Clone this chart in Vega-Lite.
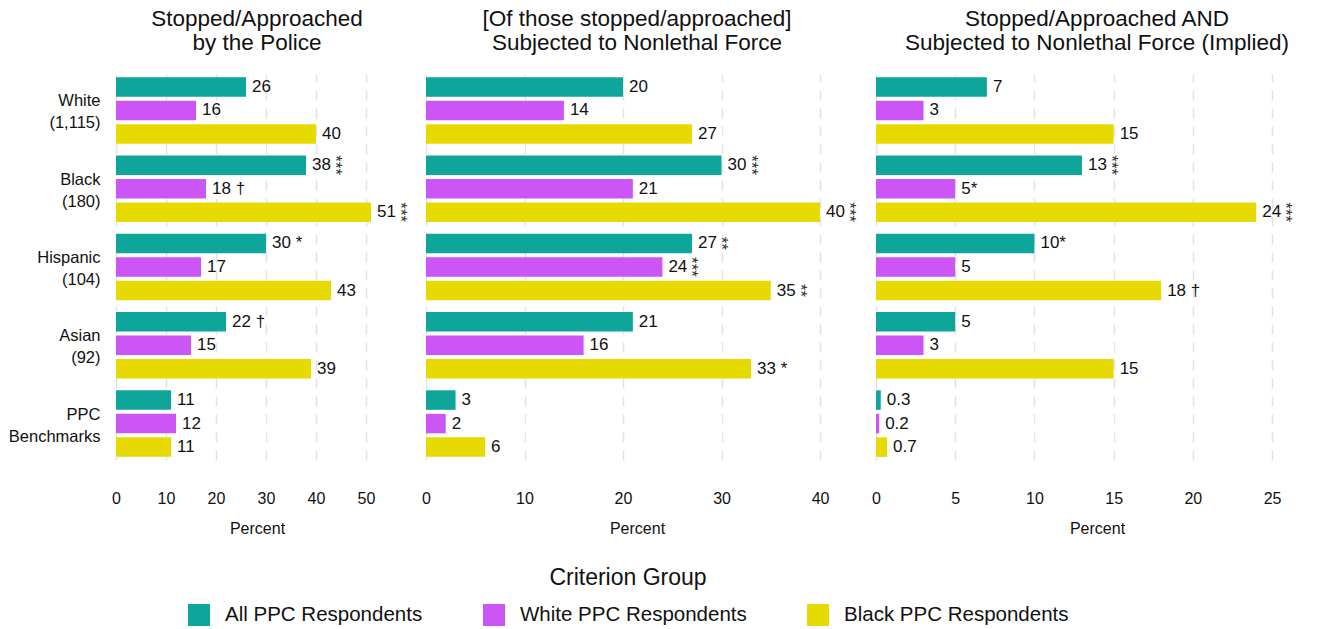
{
  "$schema": "https://vega.github.io/schema/vega-lite/v6.json",
  "padding": {"left": 8, "top": 7, "right": 2, "bottom": 2},
  "background": "white",
  "bounds": "flush",
  "config": {
    "view": {"stroke": null},
    "font": "Liberation Sans",
    "title": {"fontSize": 22.5, "fontWeight": "normal", "color": "#111111", "lineHeight": 24, "offset": 20, "anchor": "middle"},
    "axis": {"labelColor": "#111111", "titleColor": "#111111"},
    "concat": {"spacing": 28}
  },
  "datasets": {
    "rates": [
      {"panel": "Stopped", "race": "White|(1,115)", "group": "All PPC Respondents", "value": 26, "label": "26", "stars": null},
      {"panel": "Stopped", "race": "White|(1,115)", "group": "White PPC Respondents", "value": 16, "label": "16", "stars": null},
      {"panel": "Stopped", "race": "White|(1,115)", "group": "Black PPC Respondents", "value": 40, "label": "40", "stars": null},
      {"panel": "Stopped", "race": "Black|(180)", "group": "All PPC Respondents", "value": 38, "label": "38", "stars": "***"},
      {"panel": "Stopped", "race": "Black|(180)", "group": "White PPC Respondents", "value": 18, "label": "18 †", "stars": null},
      {"panel": "Stopped", "race": "Black|(180)", "group": "Black PPC Respondents", "value": 51, "label": "51", "stars": "***"},
      {"panel": "Stopped", "race": "Hispanic|(104)", "group": "All PPC Respondents", "value": 30, "label": "30 *", "stars": null},
      {"panel": "Stopped", "race": "Hispanic|(104)", "group": "White PPC Respondents", "value": 17, "label": "17", "stars": null},
      {"panel": "Stopped", "race": "Hispanic|(104)", "group": "Black PPC Respondents", "value": 43, "label": "43", "stars": null},
      {"panel": "Stopped", "race": "Asian|(92)", "group": "All PPC Respondents", "value": 22, "label": "22 †", "stars": null},
      {"panel": "Stopped", "race": "Asian|(92)", "group": "White PPC Respondents", "value": 15, "label": "15", "stars": null},
      {"panel": "Stopped", "race": "Asian|(92)", "group": "Black PPC Respondents", "value": 39, "label": "39", "stars": null},
      {"panel": "Stopped", "race": "PPC|Benchmarks", "group": "All PPC Respondents", "value": 11, "label": "11", "stars": null},
      {"panel": "Stopped", "race": "PPC|Benchmarks", "group": "White PPC Respondents", "value": 12, "label": "12", "stars": null},
      {"panel": "Stopped", "race": "PPC|Benchmarks", "group": "Black PPC Respondents", "value": 11, "label": "11", "stars": null},

      {"panel": "Force", "race": "White|(1,115)", "group": "All PPC Respondents", "value": 20, "label": "20", "stars": null},
      {"panel": "Force", "race": "White|(1,115)", "group": "White PPC Respondents", "value": 14, "label": "14", "stars": null},
      {"panel": "Force", "race": "White|(1,115)", "group": "Black PPC Respondents", "value": 27, "label": "27", "stars": null},
      {"panel": "Force", "race": "Black|(180)", "group": "All PPC Respondents", "value": 30, "label": "30", "stars": "***"},
      {"panel": "Force", "race": "Black|(180)", "group": "White PPC Respondents", "value": 21, "label": "21", "stars": null},
      {"panel": "Force", "race": "Black|(180)", "group": "Black PPC Respondents", "value": 40, "label": "40", "stars": "***"},
      {"panel": "Force", "race": "Hispanic|(104)", "group": "All PPC Respondents", "value": 27, "label": "27", "stars": "**"},
      {"panel": "Force", "race": "Hispanic|(104)", "group": "White PPC Respondents", "value": 24, "label": "24", "stars": "***"},
      {"panel": "Force", "race": "Hispanic|(104)", "group": "Black PPC Respondents", "value": 35, "label": "35", "stars": "**"},
      {"panel": "Force", "race": "Asian|(92)", "group": "All PPC Respondents", "value": 21, "label": "21", "stars": null},
      {"panel": "Force", "race": "Asian|(92)", "group": "White PPC Respondents", "value": 16, "label": "16", "stars": null},
      {"panel": "Force", "race": "Asian|(92)", "group": "Black PPC Respondents", "value": 33, "label": "33 *", "stars": null},
      {"panel": "Force", "race": "PPC|Benchmarks", "group": "All PPC Respondents", "value": 3, "label": "3", "stars": null},
      {"panel": "Force", "race": "PPC|Benchmarks", "group": "White PPC Respondents", "value": 2, "label": "2", "stars": null},
      {"panel": "Force", "race": "PPC|Benchmarks", "group": "Black PPC Respondents", "value": 6, "label": "6", "stars": null},

      {"panel": "Implied", "race": "White|(1,115)", "group": "All PPC Respondents", "value": 7, "label": "7", "stars": null},
      {"panel": "Implied", "race": "White|(1,115)", "group": "White PPC Respondents", "value": 3, "label": "3", "stars": null},
      {"panel": "Implied", "race": "White|(1,115)", "group": "Black PPC Respondents", "value": 15, "label": "15", "stars": null},
      {"panel": "Implied", "race": "Black|(180)", "group": "All PPC Respondents", "value": 13, "label": "13", "stars": "***"},
      {"panel": "Implied", "race": "Black|(180)", "group": "White PPC Respondents", "value": 5, "label": "5*", "stars": null},
      {"panel": "Implied", "race": "Black|(180)", "group": "Black PPC Respondents", "value": 24, "label": "24", "stars": "***"},
      {"panel": "Implied", "race": "Hispanic|(104)", "group": "All PPC Respondents", "value": 10, "label": "10*", "stars": null},
      {"panel": "Implied", "race": "Hispanic|(104)", "group": "White PPC Respondents", "value": 5, "label": "5", "stars": null},
      {"panel": "Implied", "race": "Hispanic|(104)", "group": "Black PPC Respondents", "value": 18, "label": "18 †", "stars": null},
      {"panel": "Implied", "race": "Asian|(92)", "group": "All PPC Respondents", "value": 5, "label": "5", "stars": null},
      {"panel": "Implied", "race": "Asian|(92)", "group": "White PPC Respondents", "value": 3, "label": "3", "stars": null},
      {"panel": "Implied", "race": "Asian|(92)", "group": "Black PPC Respondents", "value": 15, "label": "15", "stars": null},
      {"panel": "Implied", "race": "PPC|Benchmarks", "group": "All PPC Respondents", "value": 0.3, "label": "0.3", "stars": null},
      {"panel": "Implied", "race": "PPC|Benchmarks", "group": "White PPC Respondents", "value": 0.2, "label": "0.2", "stars": null},
      {"panel": "Implied", "race": "PPC|Benchmarks", "group": "Black PPC Respondents", "value": 0.7, "label": "0.7", "stars": null}
    ]
  },
  "data": {"name": "rates"},
  "resolve": {"scale": {"color": "shared", "y": "shared"}, "legend": {"color": "shared"}},
  "hconcat": [
    {
      "width": 282,
      "height": 386,
      "title": {"text": ["Stopped/Approached", "by the Police"]},
      "transform": [{"filter": "datum.panel === 'Stopped'"}],
      "encoding": {
        "y": {
          "field": "race", "type": "nominal",
          "sort": ["White|(1,115)", "Black|(180)", "Hispanic|(104)", "Asian|(92)", "PPC|Benchmarks"],
          "scale": {"paddingInner": 0.15, "paddingOuter": 0.04},
          "axis": {"title": null, "domain": false, "ticks": false, "grid": false, "labelFontSize": 16.5, "labelPadding": 16, "labelExpr": "split(datum.label, '|')", "labelLineHeight": 22, "labelBaseline": "middle", "labelOffset": -9}
        },
        "yOffset": {
          "field": "group", "type": "nominal",
          "sort": ["All PPC Respondents", "White PPC Respondents", "Black PPC Respondents"],
          "scale": {"paddingInner": 0.17}
        },
        "x": {
          "field": "value", "type": "quantitative",
          "scale": {"domain": [0, 56.4], "nice": false},
          "axis": {"values": [0, 10, 20, 30, 40, 50], "title": "Percent", "grid": true, "gridDash": [10, 8], "gridColor": "#e2e2e2", "gridWidth": 1.5, "domain": false, "ticks": false, "labelFontSize": 16, "labelPadding": 30, "labelFlush": false, "titleFontSize": 16, "titleFontWeight": "normal", "titlePadding": 14}
        }
      },
      "layer": [
        {
          "mark": {"type": "bar"},
          "encoding": {
            "color": {
              "field": "group", "type": "nominal",
              "scale": {"domain": ["All PPC Respondents", "White PPC Respondents", "Black PPC Respondents"], "range": ["#0ea59a", "#cb55f5", "#e6da00"]},
              "legend": {"orient": "none", "legendX": 72, "legendY": 493, "direction": "horizontal", "title": "Criterion Group", "titleFontSize": 23, "titleFontWeight": "normal", "titleColor": "#111111", "titleAnchor": "middle", "titleOrient": "top", "titlePadding": 14, "labelFontSize": 20.5, "labelColor": "#111111", "labelOffset": 15, "labelLimit": 400, "columnPadding": 60, "gridAlign": "each", "symbolType": "square", "symbolSize": 484, "symbolStrokeWidth": 0, "symbolOpacity": 1}
            }
          }
        },
        {
          "mark": {"type": "text", "align": "left", "baseline": "middle", "dx": 6, "fontSize": 17, "color": "#111111"},
          "encoding": {"text": {"field": "label"}}
        },
        {
          "transform": [{"filter": "datum.stars != null"}],
          "mark": {"type": "text", "align": "center", "baseline": "middle", "angle": 90, "dx": 0, "dy": -29, "fontSize": 17, "color": "#333333"},
          "encoding": {"text": {"field": "stars"}}
        }
      ]
    },
    {
      "width": 422,
      "height": 386,
      "title": {"text": ["[Of those stopped/approached]", "Subjected to Nonlethal Force"]},
      "transform": [{"filter": "datum.panel === 'Force'"}],
      "encoding": {
        "y": {
          "field": "race", "type": "nominal",
          "sort": ["White|(1,115)", "Black|(180)", "Hispanic|(104)", "Asian|(92)", "PPC|Benchmarks"],
          "scale": {"paddingInner": 0.15, "paddingOuter": 0.04},
          "axis": null
        },
        "yOffset": {
          "field": "group", "type": "nominal",
          "sort": ["All PPC Respondents", "White PPC Respondents", "Black PPC Respondents"],
          "scale": {"paddingInner": 0.17}
        },
        "x": {
          "field": "value", "type": "quantitative",
          "scale": {"domain": [0, 42.84], "nice": false},
          "axis": {"values": [0, 10, 20, 30, 40], "title": "Percent", "grid": true, "gridDash": [10, 8], "gridColor": "#e2e2e2", "gridWidth": 1.5, "domain": false, "ticks": false, "labelFontSize": 16, "labelPadding": 30, "labelFlush": false, "titleFontSize": 16, "titleFontWeight": "normal", "titlePadding": 14}
        }
      },
      "layer": [
        {
          "mark": {"type": "bar"},
          "encoding": {
            "color": {
              "field": "group", "type": "nominal",
              "scale": {"domain": ["All PPC Respondents", "White PPC Respondents", "Black PPC Respondents"], "range": ["#0ea59a", "#cb55f5", "#e6da00"]}
            }
          }
        },
        {
          "mark": {"type": "text", "align": "left", "baseline": "middle", "dx": 6, "fontSize": 17, "color": "#111111"},
          "encoding": {"text": {"field": "label"}}
        },
        {
          "transform": [{"filter": "datum.stars != null"}],
          "mark": {"type": "text", "align": "center", "baseline": "middle", "angle": 90, "dx": 0, "dy": -29, "fontSize": 17, "color": "#333333"},
          "encoding": {"text": {"field": "stars"}}
        }
      ]
    },
    {
      "width": 442,
      "height": 386,
      "title": {"text": ["Stopped/Approached AND", "Subjected to Nonlethal Force (Implied)"]},
      "transform": [{"filter": "datum.panel === 'Implied'"}],
      "encoding": {
        "y": {
          "field": "race", "type": "nominal",
          "sort": ["White|(1,115)", "Black|(180)", "Hispanic|(104)", "Asian|(92)", "PPC|Benchmarks"],
          "scale": {"paddingInner": 0.15, "paddingOuter": 0.04},
          "axis": null
        },
        "yOffset": {
          "field": "group", "type": "nominal",
          "sort": ["All PPC Respondents", "White PPC Respondents", "Black PPC Respondents"],
          "scale": {"paddingInner": 0.17}
        },
        "x": {
          "field": "value", "type": "quantitative",
          "scale": {"domain": [0, 27.9], "nice": false},
          "axis": {"values": [0, 5, 10, 15, 20, 25], "title": "Percent", "grid": true, "gridDash": [10, 8], "gridColor": "#e2e2e2", "gridWidth": 1.5, "domain": false, "ticks": false, "labelFontSize": 16, "labelPadding": 30, "labelFlush": false, "titleFontSize": 16, "titleFontWeight": "normal", "titlePadding": 14}
        }
      },
      "layer": [
        {
          "mark": {"type": "bar"},
          "encoding": {
            "color": {
              "field": "group", "type": "nominal",
              "scale": {"domain": ["All PPC Respondents", "White PPC Respondents", "Black PPC Respondents"], "range": ["#0ea59a", "#cb55f5", "#e6da00"]}
            }
          }
        },
        {
          "mark": {"type": "text", "align": "left", "baseline": "middle", "dx": 6, "fontSize": 17, "color": "#111111"},
          "encoding": {"text": {"field": "label"}}
        },
        {
          "transform": [{"filter": "datum.stars != null"}],
          "mark": {"type": "text", "align": "center", "baseline": "middle", "angle": 90, "dx": 0, "dy": -29, "fontSize": 17, "color": "#333333"},
          "encoding": {"text": {"field": "stars"}}
        }
      ]
    }
  ]
}
